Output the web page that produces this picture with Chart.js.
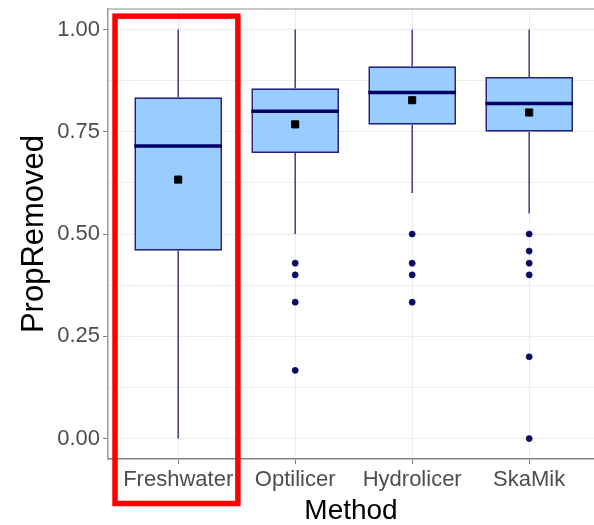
<!DOCTYPE html>
<html>
<head>
<meta charset="utf-8">
<script src="https://cdn.jsdelivr.net/npm/chart.js@4"></script>
<style>
  html, body { margin: 0; padding: 0; background: #ffffff; overflow: hidden; }
  #wrap { width: 594px; height: 525px; }
</style>
</head>
<body>
<div id="wrap"><canvas id="c" width="594" height="525"></canvas></div>
<script>
// Box-plot summary per method
const methods      = ['Freshwater', 'Optilicer', 'Hydrolicer', 'SkaMik'];
const whiskerLow   = [0.00, 0.50, 0.60, 0.55];
const q1           = [0.459, 0.698, 0.767, 0.750];
const medians      = [0.715, 0.800, 0.846, 0.819];
const q3           = [0.834, 0.856, 0.910, 0.884];
const whiskerHigh  = [1.00, 1.00, 1.00, 1.00];
const means        = [0.633, 0.768, 0.827, 0.797];

// Outlying observations per method
const outliers = [
  [],
  [0.4286, 0.40, 0.3333, 0.1667],
  [0.50, 0.4286, 0.40, 0.3333],
  [0.50, 0.4583, 0.4286, 0.40, 0.20, 0.00]
];

// Axis ticks
const yMajorTicks  = [0, 0.25, 0.5, 0.75, 1];
const yMajorLabels = ['0.00', '0.25', '0.50', '0.75', '1.00'];
const yMinorTicks  = [0.125, 0.375, 0.625, 0.875];

const highlighted = 'Freshwater';

const boxData = methods.map((m, i) => ({ x: i + 1, y: [q1[i], q3[i]] }));
const meanData = methods.map((m, i) => ({ x: i + 1, y: means[i] }));
const outlierData = [];
outliers.forEach((list, i) => list.forEach(v => outlierData.push({ x: i + 1, y: v })));

const WHISKER = '#3c3c88';
const EDGE = '#23237f';
const MEDIAN = '#000066';

const boxParts = {
  id: 'boxParts',
  beforeDatasetsDraw(chart) {
    const { ctx, scales: { x, y } } = chart;
    ctx.save();
    ctx.strokeStyle = WHISKER;
    ctx.lineWidth = 1.5;
    methods.forEach((m, i) => {
      const px = x.getPixelForValue(i + 1);
      ctx.beginPath();
      ctx.moveTo(px, y.getPixelForValue(whiskerHigh[i]));
      ctx.lineTo(px, y.getPixelForValue(q3[i]));
      ctx.moveTo(px, y.getPixelForValue(q1[i]));
      ctx.lineTo(px, y.getPixelForValue(whiskerLow[i]));
      ctx.stroke();
    });
    ctx.restore();
  },
  afterDatasetDraw(chart, args) {
    if (args.index !== 0) return;
    const { ctx, scales: { y } } = chart;
    const bars = args.meta.data;
    ctx.save();
    ctx.strokeStyle = MEDIAN;
    ctx.lineWidth = 3.5;
    bars.forEach((bar, i) => {
      const half = bar.width / 2;
      const py = y.getPixelForValue(medians[i]);
      ctx.beginPath();
      ctx.moveTo(bar.x - half, py);
      ctx.lineTo(bar.x + half, py);
      ctx.stroke();
    });
    ctx.restore();
  },
  afterDraw(chart) {
    const { ctx, chartArea, scales: { x, y } } = chart;
    ctx.save();
    // panel top border
    ctx.strokeStyle = '#b3b3b3';
    ctx.lineWidth = 1.5;
    ctx.beginPath();
    ctx.moveTo(chartArea.left, chartArea.top);
    ctx.lineTo(chartArea.right, chartArea.top);
    ctx.stroke();
    // highlight frame around one method
    const k = methods.indexOf(highlighted) + 1;
    const left = x.getPixelForValue(k - 0.54);
    const right = x.getPixelForValue(k + 0.51);
    const top = y.getPixelForValue(1.0325);
    const bottom = chartArea.bottom + 44.5;
    ctx.strokeStyle = '#ff0000';
    ctx.lineWidth = 5.5;
    ctx.strokeRect(left, top, right - left, bottom - top);
    ctx.restore();
  }
};

new Chart(document.getElementById('c'), {
  type: 'bar',
  data: {
    datasets: [
      {
        type: 'bar',
        data: boxData,
        backgroundColor: '#99ccff',
        borderColor: EDGE,
        borderWidth: 1.8,
        borderSkipped: false,
        categoryPercentage: 1,
        barPercentage: 0.75,
        order: 3
      },
      {
        type: 'scatter',
        data: outlierData,
        pointStyle: 'circle',
        pointRadius: 3.1,
        pointBorderWidth: 0.5,
        backgroundColor: '#0a0a66',
        borderColor: '#0a0a66',
        order: 2
      },
      {
        type: 'scatter',
        data: meanData,
        pointStyle: 'rect',
        pointRadius: 5,
        pointBorderWidth: 1,
        backgroundColor: '#000000',
        borderColor: '#000000',
        order: 1
      }
    ]
  },
  plugins: [boxParts],
  options: {
    responsive: false,
    animation: false,
    layout: { autoPadding: false, padding: { left: 0, right: 0, top: 9, bottom: 0 } },
    plugins: { legend: { display: false }, tooltip: { enabled: false } },
    scales: {
      x: {
        type: 'linear',
        offset: false,
        min: 0.4,
        max: 4.554,
        afterBuildTicks(axis) { axis.ticks = methods.map((m, i) => ({ value: i + 1 })); },
        afterFit(axis) {
          axis.height = 66;
          axis.paddingLeft = 0;
          axis.paddingRight = 0;
        },
        ticks: {
          callback: (v) => methods[Math.round(v) - 1],
          color: '#4d4d4d',
          font: { family: 'Liberation Sans', size: 22 },
          padding: 3,
          maxRotation: 0,
          autoSkip: false
        },
        grid: { offset: false, color: '#ececec', lineWidth: 1, tickColor: '#808080', tickLength: 5 },
        border: { display: true, color: '#808080', width: 1.5 },
        title: {
          display: true,
          text: 'Method',
          color: '#000000',
          font: { family: 'Liberation Sans', size: 28, lineHeight: 1 },
          padding: { top: 0, bottom: 0 }
        }
      },
      y: {
        type: 'linear',
        min: -0.05,
        max: 1.05,
        afterBuildTicks(axis) {
          axis.ticks = yMajorTicks.concat(yMinorTicks).sort((a, b) => a - b).map(v => ({ value: v }));
        },
        afterFit(axis) {
          axis.width = 108;
          axis.paddingTop = 0;
          axis.paddingBottom = 0;
        },
        ticks: {
          callback: (v) => {
            const i = yMajorTicks.indexOf(v);
            return i >= 0 ? yMajorLabels[i] : '';
          },
          color: '#4d4d4d',
          font: { family: 'Liberation Sans', size: 22 },
          padding: 3,
          autoSkip: false
        },
        grid: {
          color: '#ececec',
          lineWidth: 1,
          tickLength: 5,
          tickColor: (c) => (yMajorTicks.includes(c.tick && c.tick.value) ? '#808080' : 'rgba(0,0,0,0)')
        },
        border: { display: true, color: '#9a9a9a', width: 1.5 },
        title: {
          display: true,
          text: 'PropRemoved',
          color: '#000000',
          font: { family: 'Liberation Sans', size: 31, lineHeight: 1 },
          padding: { top: 19, bottom: 0 }
        }
      }
    }
  }
});
</script>
</body>
</html>
